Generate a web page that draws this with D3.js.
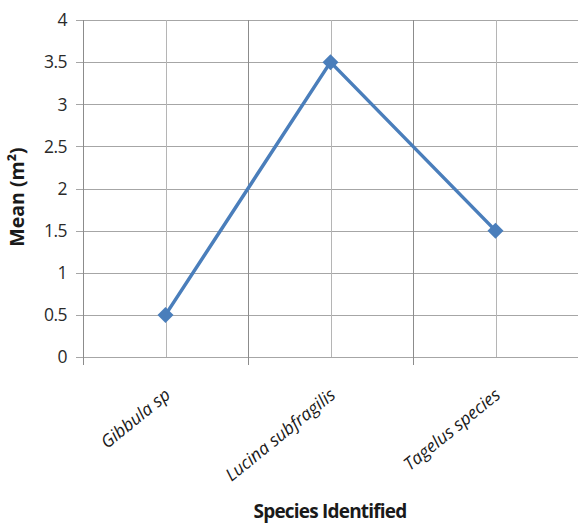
<!DOCTYPE html>
<html>
<head>
<meta charset="utf-8">
<script src="https://cdn.jsdelivr.net/npm/d3@7"></script>
<style>
  body { margin: 0; background: #fff; }
  text { font-family: "Open Sans", "Noto Sans", sans-serif; fill: #1a1a1a; }
</style>
</head>
<body>
<div id="chart"></div>
<script>
// data
const species = ["Gibbula sp", "Lucina subfragilis", "Tagelus species"];
const meanValues = [0.5, 3.5, 1.5];
const yTicks = [0, 0.5, 1, 1.5, 2, 2.5, 3, 3.5, 4];

// svg
const width = 578;
const height = 523;
const margin = { top: 20, right: 0, bottom: 166, left: 83 };

const svg = d3.select("#chart")
  .append("svg")
  .attr("width", width)
  .attr("height", height);

// scales
const xScale = d3.scaleBand()
  .domain(species)
  .range([margin.left, width - margin.right]);

const yScale = d3.scaleLinear()
  .domain([0, 4])
  .range([height - margin.bottom, margin.top]);

const xMid = (d) => xScale(d) + xScale.bandwidth() / 2;

// horizontal grid
svg.append("g")
  .selectAll("line")
  .data(yTicks)
  .join("line")
  .attr("x1", margin.left - 7)
  .attr("x2", width - margin.right)
  .attr("y1", (d) => Math.round(yScale(d)) + 0.5)
  .attr("y2", (d) => Math.round(yScale(d)) + 0.5)
  .attr("stroke", "#a6a6a6")
  .attr("stroke-width", 1);

// vertical grid at category centres (light)
svg.append("g")
  .selectAll("line")
  .data(species)
  .join("line")
  .attr("x1", (d) => Math.round(xMid(d)) + 0.5)
  .attr("x2", (d) => Math.round(xMid(d)) + 0.5)
  .attr("y1", yScale(4))
  .attr("y2", yScale(0))
  .attr("stroke", "#b5b5b5");

// vertical lines at category boundaries (darker), with ticks below
const bounds = species.map((d) => xScale(d)).concat([width - margin.right]);
svg.append("g")
  .selectAll("line")
  .data(bounds)
  .join("line")
  .attr("x1", (d) => Math.round(d) + 0.5)
  .attr("x2", (d) => Math.round(d) + 0.5)
  .attr("y1", yScale(4))
  .attr("y2", (d, i) => (i < species.length ? yScale(0) + 8 : yScale(0)))
  .attr("stroke", "#8c8c8c");

// y labels
svg.append("g")
  .selectAll("text")
  .data(yTicks)
  .join("text")
  .attr("x", margin.left - 16)
  .attr("y", (d) => yScale(d))
  .attr("dy", "0.36em")
  .attr("text-anchor", "end")
  .style("font-size", "17.5px")
  .style("letter-spacing", "-0.5px")
  .style("fill", "#2a2a2a")
  .text((d) => d);

// x labels, rotated
svg.append("g")
  .selectAll("text")
  .data(species)
  .join("text")
  .attr("transform", (d) => `translate(${xMid(d) + 6},${yScale(0) + 40}) rotate(-39)`)
  .attr("text-anchor", "end")
  .style("font-size", "17.5px")
  .style("font-style", "italic")
  .text((d) => d);

// line
const line = d3.line()
  .x((d, i) => xMid(species[i]))
  .y((d) => yScale(d));

svg.append("path")
  .datum(meanValues)
  .attr("d", line)
  .attr("fill", "none")
  .attr("stroke", "#4a7ebb")
  .attr("stroke-width", 3.5)
  .attr("stroke-linejoin", "round");

// diamond markers
svg.append("g")
  .selectAll("path")
  .data(meanValues)
  .join("path")
  .attr("transform", (d, i) => `translate(${xMid(species[i])},${yScale(d)})`)
  .attr("d", "M0,-8L8,0L0,8L-8,0Z")
  .attr("fill", "#4a7ebb");

// axis titles
svg.append("text")
  .attr("transform", "translate(24,197) rotate(-90)")
  .attr("text-anchor", "middle")
  .style("font-size", "19.5px")
  .style("font-weight", "bold")
  .text("Mean (m²)");

svg.append("text")
  .attr("x", 330)
  .attr("y", 518)
  .attr("text-anchor", "middle")
  .style("font-size", "19px")
  .style("font-weight", "bold")
  .style("letter-spacing", "-0.8px")
  .text("Species Identified");
</script>
</body>
</html>
